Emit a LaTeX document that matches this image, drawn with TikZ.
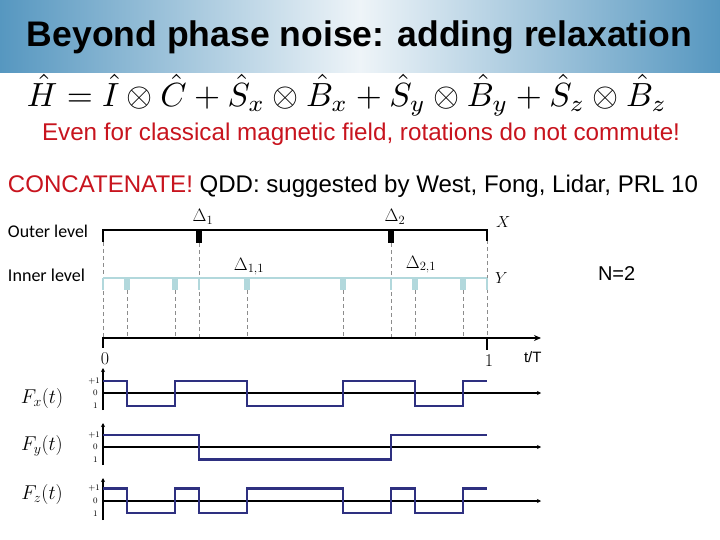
\documentclass[tikz,border=0pt]{standalone}
\usepackage{fontspec}
\usepackage{fix-cm}
\setmainfont{Liberation Sans}
\newfontfamily\calib{Carlito}
\usetikzlibrary{arrows.meta}
\definecolor{barside}{RGB}{86,151,192}
\definecolor{barmid}{RGB}{238,244,248}
\definecolor{redtxt}{RGB}{200,20,30}
\definecolor{innerblue}{RGB}{178,216,220}
\definecolor{wave}{RGB}{46,48,128}
\definecolor{dashgray}{RGB}{140,140,140}
\tikzset{
  txt/.style={inner sep=0pt, outer sep=0pt},
  outerline/.style={line width=2pt, black},
  innerline/.style={line width=2pt, innerblue},
  guide/.style={dashgray, line width=0.7pt, dash pattern=on 4pt off 3pt},
  opulse/.style={fill=black, draw=none},
  ipulse/.style={fill=innerblue, draw=none},
  axisline/.style={line width=1.8pt, black},
  waveline/.style={line width=2.6pt, wave, line join=miter},
  tick/.style={txt, font=\fontsize{8.5}{9}\selectfont\rmfamily},
  flabel/.style={txt, font=\fontsize{20}{20}\selectfont},
  dlabel/.style={txt, font=\fontsize{18}{18}\selectfont},
  xylabel/.style={txt, font=\fontsize{16}{16}\selectfont},
}
\begin{document}
\begin{tikzpicture}[x=1pt,y=-1pt]
\useasboundingbox (0,0) rectangle (720,540);
\fill[white] (0,0) rectangle (720,540);
% title bar
\shade[left color=barside, right color=barside, middle color=barmid] (0,0) rectangle (720,73);
\node[txt, anchor=base west] (title) at (27,47)
  {\resizebox{665pt}{!}{\bfseries Beyond phase noise: adding relaxation}};
% equation
\node[txt, anchor=center] (eq) at (347,95)
  {\resizebox{640pt}{!}{$\hat H = \hat I \otimes \hat C + \hat S_x \otimes \hat B_x + \hat S_y \otimes \hat B_y + \hat S_z \otimes \hat B_z$}};
\node[txt, anchor=base west, text=redtxt] (even) at (42,141)
  {\resizebox{638pt}{!}{Even for classical magnetic field, rotations do not commute!}};
\node[txt, anchor=base west] (conc) at (8,193)
  {\resizebox{690pt}{!}{\textcolor{redtxt}{CONCATENATE!} QDD: suggested by West, Fong, Lidar, PRL 10}};
% level labels
\node[txt, anchor=base west] (outerlbl) at (8,237) {\resizebox{80pt}{!}{\calib Outer level}};
\node[txt, anchor=base west] (innerlbl) at (8,281) {\resizebox{77pt}{!}{\calib Inner level}};
% guides
\foreach \xx/\yy in {103/242,487/240,199/243,391/243,127/290,175/290,247/290,343/290,415/290,463/290}
  \draw[guide] (\xx,\yy) -- (\xx,338);
% outer level
\draw[outerline] (103,242) -- (103,230) -- (487,230) -- (487,241);
\fill[opulse] (196,229) rectangle (202,243);
\fill[opulse] (388,229) rectangle (394,243);
% inner level
\draw[innerline] (103,278) -- (487,278);
\foreach \xx in {103,199,391,487}
  \draw[innerblue, line width=1.2pt] (\xx,278) -- (\xx,290);
\foreach \xx in {127,175,247,343,415,463}
  \fill[ipulse] (\xx-3,277) rectangle (\xx+3,290);
% labels
\node[dlabel, anchor=base] (d1) at (203,222) {$\Delta_1$};
\node[dlabel, anchor=base] (d2) at (395,222) {$\Delta_2$};
\node[dlabel, anchor=base] (d11) at (249,270) {$\Delta_{1,1}$};
\node[dlabel, anchor=base] (d21) at (421,268) {$\Delta_{2,1}$};
\node[xylabel, anchor=base west] (xl) at (496,228) {$X$};
\node[xylabel, anchor=base west] (yl) at (495,283) {$Y$};
\node[txt, anchor=base west, font=\fontsize{20}{20}\selectfont] (n2) at (598,280) {N=2};
% time axis
\coordinate (t0) at (103,338);
\coordinate (tend) at (541,338);
\draw[axisline, -{Stealth[length=7pt,width=6pt]}] (t0) -- (tend);
\draw[axisline] (103,337) -- (103,348);
\draw[axisline] (487,337) -- (487,350);
\node[dlabel, anchor=base] (zero) at (105,364) {$0$};
\node[dlabel, anchor=base] (one) at (489,366) {$1$};
\node[txt, anchor=base west, font=\fontsize{15}{15}\selectfont] (tT) at (524,362) {t/T};
% Fx plot
\draw[axisline, line width=1.6pt, -{Stealth[length=4pt,width=4pt]}] (103,410) -- (103,368);
\draw[axisline, line width=1.6pt, -{Stealth[length=4pt,width=4pt]}] (103,393) -- (541,393);
\draw[waveline] (103,381) -| (127,406) -| (175,381) -| (247,406) -| (343,381) -| (415,406) -| (463,381) -- (487,381);
\node[tick, anchor=east] (fxp) at (100,381) {$+1$};
\node[tick] (fx0) at (95.5,393) {$0$};
\node[tick] (fxm) at (95.5,406) {$1$};
\node[flabel] (fx) at (42,398) {$F_x(t)$};
% Fy plot
\draw[axisline, line width=1.6pt, -{Stealth[length=4pt,width=4pt]}] (103,465) -- (103,423);
\draw[axisline, line width=1.6pt, -{Stealth[length=4pt,width=4pt]}] (103,447) -- (541,447);
\draw[waveline] (103,435) -| (199,459.5) -| (391,435) -- (487,435);
\node[tick, anchor=east] (fyp) at (100,435) {$+1$};
\node[tick] (fy0) at (95.5,447) {$0$};
\node[tick] (fym) at (95.5,460) {$1$};
\node[flabel] (fy) at (42,446) {$F_y(t)$};
% Fz plot
\draw[axisline, line width=1.6pt, -{Stealth[length=4pt,width=4pt]}] (103,520) -- (103,478);
\draw[axisline, line width=1.6pt, -{Stealth[length=4pt,width=4pt]}] (103,501) -- (541,501);
\draw[waveline] (103,488.5) -| (127,513) -| (175,488.5) -| (199,513) -| (247,488.5) -| (343,513) -| (391,488.5) -| (415,513) -| (463,488.5) -- (487,488.5);
\node[tick, anchor=east] (fzp) at (100,488.5) {$+1$};
\node[tick] (fz0) at (95.5,501) {$0$};
\node[tick] (fzm) at (95.5,514) {$1$};
\node[flabel] (fz) at (42,494) {$F_z(t)$};
\end{tikzpicture}
\end{document}
